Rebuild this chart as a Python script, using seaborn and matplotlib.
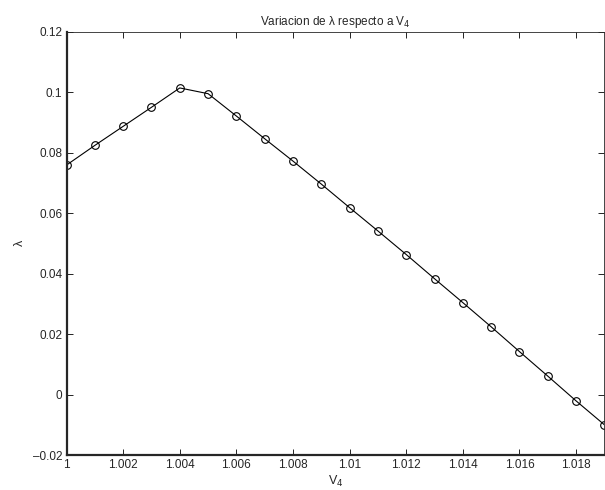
import matplotlib
matplotlib.use("Agg")
import matplotlib.pyplot as plt
import seaborn as sns
import pandas as pd
from matplotlib.ticker import FuncFormatter

v4 = [1.000, 1.001, 1.002, 1.003, 1.004, 1.005, 1.006, 1.007, 1.008, 1.009,
      1.010, 1.011, 1.012, 1.013, 1.014, 1.015, 1.016, 1.017, 1.018, 1.019]
lam = [0.0759, 0.0824, 0.0887, 0.0950, 0.1014, 0.0995, 0.0921, 0.0846, 0.0772, 0.0696,
       0.0618, 0.0541, 0.0463, 0.0383, 0.0304, 0.0224, 0.0142, 0.0061, -0.0021, -0.0100]
xticks = [1.000, 1.002, 1.004, 1.006, 1.008, 1.010, 1.012, 1.014, 1.016, 1.018]
yticks = [-0.02, 0.0, 0.02, 0.04, 0.06, 0.08, 0.10, 0.12]

sns.set_style("ticks")
plt.rcParams['font.family'] = ['Liberation Sans', 'DejaVu Sans']
plt.rcParams['axes.unicode_minus'] = True

df = pd.DataFrame({"V4": v4, "lam": lam})

fig = plt.figure(figsize=(6.05, 4.9), dpi=100)
ax = fig.add_axes([0.110, 0.0714, 0.889, 0.8639])
sns.lineplot(data=df, x="V4", y="lam", ax=ax, color="black", linewidth=0.8,
             marker="o", markersize=5.5, markerfacecolor="none",
             markeredgecolor="black", markeredgewidth=0.8)

ax.set_xlim(1.0, 1.019)
ax.set_ylim(-0.02, 0.12)
ax.set_xticks(xticks)
ax.set_yticks(yticks)
fmt = FuncFormatter(lambda v, p: ("%g" % round(v, 6)).replace("-", "\u2013"))
ax.xaxis.set_major_formatter(fmt)
ax.yaxis.set_major_formatter(fmt)
ax.tick_params(direction="in", top=True, right=True, length=4.5, width=0.6,
               labelsize=8.5, pad=3, color="black")
for s in ["top", "right"]:
    ax.spines[s].set_visible(True)
    ax.spines[s].set_linewidth(0.6)
for s in ["left", "bottom"]:
    ax.spines[s].set_linewidth(1.6)
ax.set_xlabel("V$_4$", fontsize=9, labelpad=2)
ax.set_ylabel("\u03bb", fontsize=9, labelpad=5)
ax.set_title("Variacion de \u03bb respecto a V$_4$", fontsize=8.5, pad=5)

fig.savefig("out.png", dpi=100, facecolor="white")
